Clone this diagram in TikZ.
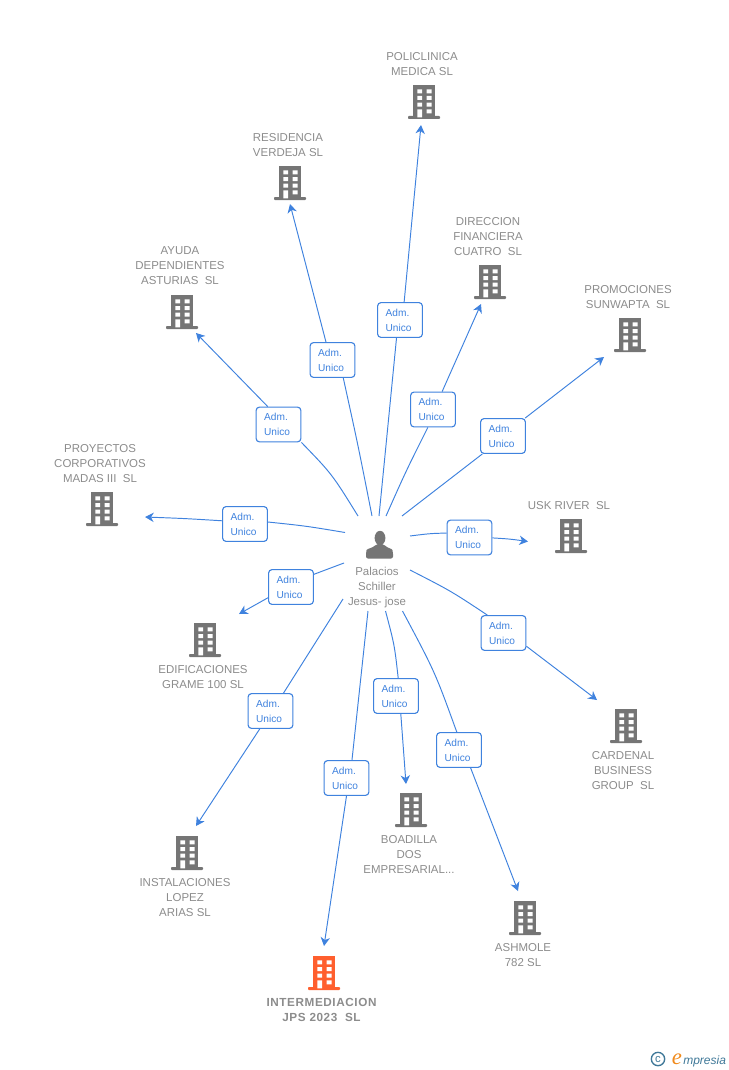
\documentclass[tikz,border=0pt]{standalone}
\usepackage{fontspec}
\setmainfont{Liberation Sans}
\newfontfamily\logofont{Liberation Serif}
\usetikzlibrary{arrows.meta}
\definecolor{linkblue}{HTML}{3F82DE}
\definecolor{txtgray}{HTML}{8C8C8C}
\definecolor{icongray}{HTML}{757575}
\definecolor{iconorange}{HTML}{FF5F2E}
\definecolor{logoblue}{HTML}{3F7898}
\definecolor{logoorange}{HTML}{F08A1C}
\tikzset{
  x=0.75pt,y=-0.75pt,
  conn/.style={draw=linkblue,line width=0.72pt},
  tip/.style={conn,-{Stealth[length=6.5pt,width=7pt,inset=2pt]}},
  admbox/.style={draw=linkblue,fill=white,line width=0.85pt,rounded corners=2.4pt,minimum width=33.5pt,minimum height=26pt,inner xsep=6pt,inner ysep=0pt,text width=21.5pt,align=left,text=linkblue,font=\fontsize{7.6}{11.25}\selectfont},
  namelabel/.style={align=center,text=txtgray,inner sep=0pt,font=\fontsize{8.6}{11.25}\selectfont},
  namebold/.style={namelabel,font=\fontsize{8.8}{11.25}\selectfont\bfseries\addfontfeature{LetterSpace=5}},
  iconbox/.style={minimum width=24pt,minimum height=25.5pt,inner sep=0pt},
}
% building icon centred on #1, colour #2, drawn round a named node
\newcommand{\bldg}[3]{%
  \node[iconbox] (#1) at (#2) {};
  \begin{scope}[shift={(#2)}]
    \fill[#3] (-11,-17) rectangle (11,15);
    \fill[#3,rounded corners=0.6pt] (-16,14) rectangle (16,17);
    \fill[white] (-6.7,-12.7) rectangle (-2,-8.7) (2.7,-12.7) rectangle (7.7,-8.7)
      (-6.7,-6) rectangle (-2,-2) (2.7,-6) rectangle (7.7,-2)
      (-6.7,0.7) rectangle (-2,4.7) (2.7,0.7) rectangle (7.7,4.7)
      (-6.7,7.3) rectangle (-2,15.3) (2.7,7.3) rectangle (7.7,11.3);
  \end{scope}}
\begin{document}
\begin{tikzpicture}
\useasboundingbox (0,0) rectangle (728,1070);
% buildings
\bldg{b1}{424,102}{icongray}
\bldg{b2}{290,183}{icongray}
\bldg{b3}{182,312}{icongray}
\bldg{b4}{102,509}{icongray}
\bldg{b5}{490,282}{icongray}
\bldg{b6}{630,335}{icongray}
\bldg{b7}{571,536}{icongray}
\bldg{b8}{626,726}{icongray}
\bldg{b9}{525,918}{icongray}
\bldg{b10}{411,810}{icongray}
\bldg{b11}{324,973}{iconorange}
\bldg{b12}{187,853}{icongray}
\bldg{b13}{205,640}{icongray}
% building names
\node[namelabel] (n1) at (422,64) {POLICLINICA\\MEDICA SL};
\node[namelabel] (n2) at (288,145) {RESIDENCIA\\VERDEJA SL};
\node[namelabel] (n3) at (180,265.5) {AYUDA\\DEPENDIENTES\\ASTURIAS~ SL};
\node[namelabel] (n4) at (100,464) {PROYECTOS\\CORPORATIVOS\\MADAS III~ SL};
\node[namelabel] (n5) at (488,236.5) {DIRECCION\\FINANCIERA\\CUATRO~ SL};
\node[namelabel] (n6) at (628,297) {PROMOCIONES\\SUNWAPTA~ SL};
\node[namelabel] (n7) at (569,505.5) {USK RIVER~ SL};
\node[namelabel] (n8) at (623,770.5) {CARDENAL\\BUSINESS\\GROUP~ SL};
\node[namelabel] (n9) at (523,955) {ASHMOLE\\782 SL};
\node[namelabel] (n10) at (409,854.5) {BOADILLA\\DOS\\EMPRESARIAL...};
\node[namebold] (n11) at (321.5,1009.5) {INTERMEDIACION\\JPS 2023~ SL};
\node[namelabel] (n12) at (185,897.5) {INSTALACIONES\\LOPEZ\\ARIAS SL};
\node[namelabel] (n13) at (203,677) {EDIFICACIONES\\GRAME 100 SL};
% person
\node[inner sep=0pt,minimum width=28pt,minimum height=21pt] (person) at (379.5,545) {};
\fill[icongray] (380,538) ellipse (5.4 and 7.2);
\fill[icongray,rounded corners=1.5pt] (366,558.5) -- (366,552) .. controls (367,548.5) and (373,548) .. (376,544) -- (384,544) .. controls (387,548) and (392,548.5) .. (393,552) -- (393,558.5) -- cycle;
\node[namelabel] (pname) at (377,587.5) {Palacios\\Schiller\\Jesus- jose};
% relation boxes
\node[admbox] (a1) at (400,320) {Adm.\\Unico};
\node[admbox] (a2) at (332.5,360) {Adm.\\Unico};
\node[admbox] (a3) at (278.5,424.5) {Adm.\\Unico};
\node[admbox] (a4) at (245,524) {Adm.\\Unico};
\node[admbox] (a5) at (433,409.5) {Adm.\\Unico};
\node[admbox] (a6) at (503,436) {Adm.\\Unico};
\node[admbox] (a7) at (469.5,537.5) {Adm.\\Unico};
\node[admbox] (a8) at (503.5,633) {Adm.\\Unico};
\node[admbox] (a9) at (459,750) {Adm.\\Unico};
\node[admbox] (a10) at (396,696) {Adm.\\Unico};
\node[admbox] (a11) at (346.5,778) {Adm.\\Unico};
\node[admbox] (a12) at (270.5,711) {Adm.\\Unico};
\node[admbox] (a13) at (291,587) {Adm.\\Unico};
% free connector ends
\coordinate (s1) at (379,516); \coordinate (e1) at (421,125);
\coordinate (s2) at (372,516); \coordinate (e2) at (290,204);
\coordinate (s3) at (358,516); \coordinate (e3) at (196,333);
\coordinate (s4) at (345,532.5); \coordinate (e4) at (145,517);
\coordinate (s5) at (386,516); \coordinate (e5) at (481,304);
\coordinate (s6) at (402,516); \coordinate (e6) at (604,357);
\coordinate (s7) at (410,536); \coordinate (e7) at (528,541.5);
\coordinate (s8) at (410,570); \coordinate (e8) at (597,700);
\coordinate (s9) at (402.5,611); \coordinate (e9) at (518,891);
\coordinate (s10) at (385.5,611); \coordinate (e10) at (406,784);
\coordinate (s11) at (368,611); \coordinate (e11) at (324,946);
\coordinate (s12) at (343,599); \coordinate (e12) at (196,826);
\coordinate (s13) at (344,563); \coordinate (e13) at (239,614);
% connectors
\draw[conn] (s1) .. controls (387.5,430) .. (a1.-101);
\draw[tip] (a1.77) -- (e1);
\draw[conn] (s2) .. controls (358,445) .. (a2.-59);
\draw[tip] (a2.110) -- (e2);
\draw[conn] (s3) .. controls (332,474) .. (a3.south east);
\draw[tip] (a3.121) -- (e3);
\draw[conn] (s4) .. controls (306,526) .. (a4.5);
\draw[tip] (a4.172) .. controls (185,518.5) .. (e4);
\draw[conn] (s5) .. controls (406,471) .. (a5.-106);
\draw[tip] (a5.63) -- (e5);
\draw[conn] (s6) -- (a6.221);
\draw[tip] (a6.39) -- (e6);
\draw[conn] (s7) .. controls (430,533.5) .. (a7.169);
\draw[tip] (a7.-1) .. controls (510,539) .. (e7);
\draw[conn] (s8) .. controls (451,591) .. (a8.132);
\draw[tip] (a8.-30) -- (e8);
\draw[conn] (s9) .. controls (435,672) .. (a9.97);
\draw[tip] (a9.-57) -- (e9);
\draw[conn] (s10) .. controls (394.5,645) .. (a10.83);
\draw[tip] (a10.-75) -- (e10);
\draw[conn] (s11) -- (a11.73);
\draw[tip] (a11.-90) -- (e11);
\draw[conn] (s12) -- (a12.54);
\draw[tip] (a12.239) -- (e12);
\draw[conn] (s13) .. controls (328,569) .. (a13.29);
\draw[tip] (a13.205.5) -- (e13);
% logo
\node[draw=logoblue,line width=1pt,circle,minimum size=10pt,inner sep=0pt,text=logoblue,font=\fontsize{8.5}{8.5}\selectfont] (copy) at (658,1059) {c};
\node[anchor=base west,inner sep=0pt,text=logoorange,font=\logofont\itshape\fontsize{17}{17}\selectfont] (logoe) at (671.5,1064.5) {e};
\node[anchor=base west,inner sep=0pt,text=logoblue,font=\itshape\fontsize{9}{10}\selectfont] (logot) at (683,1064.5) {mpresia};
\end{tikzpicture}
\end{document}
